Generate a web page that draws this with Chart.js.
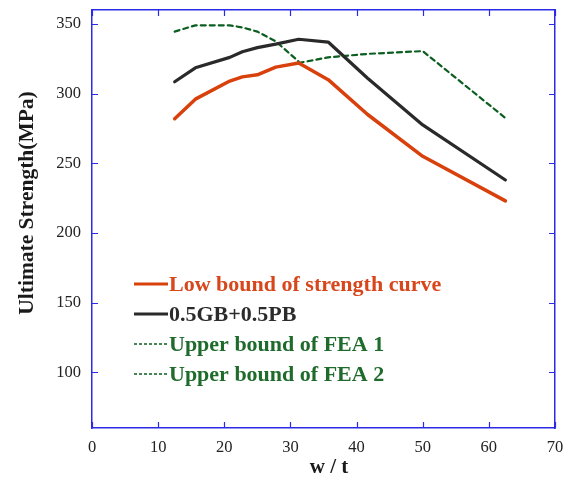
<!DOCTYPE html>
<html>
<head>
<meta charset="utf-8">
<script src="https://cdn.jsdelivr.net/npm/chart.js@4"></script>
<style>
  html, body { margin: 0; padding: 0; background: #fff; }
  #wrap { width: 575px; height: 482px; position: relative; }
</style>
</head>
<body>
<div id="wrap"><canvas id="strength-chart" width="575" height="482"></canvas></div>
<script>
// w/t values
const wt = [12.5, 15.63, 20.83, 22.73, 25, 27.78, 31.25, 35.71, 41.67, 50, 62.5];
const lowBound = [282, 296, 309, 312, 313.5, 319, 322, 310, 285, 255, 223];
const gbPb = [308.5, 318.5, 326, 330, 333, 335.5, 339, 337, 311, 277.5, 238];
const fea1X = [12.5, 15.63, 20.83, 22.73, 25, 27.78, 31.25];
const fea1 = [344.5, 349, 349, 347.5, 344.5, 337.5, 323];
const fea2X = [31.25, 35.71, 41.67, 50, 62.5];
const fea2 = [322, 326, 328.5, 330.5, 282.5];
const xTicks = [0, 10, 20, 30, 40, 50, 60, 70];
const yTicks = [100, 150, 200, 250, 300, 350];

const AXIS_BLUE = "#2b2be6";
const FONT = "'Liberation Serif', 'DejaVu Serif', serif";

const toPoints = (xs, ys) => xs.map((x, i) => ({ x: x, y: ys[i] }));

// ticks pointing inside the box, on all four sides
const innerTicks = {
  id: "innerTicks",
  afterDraw(chart) {
    const { ctx, chartArea: a, scales } = chart;
    const len = 6;
    ctx.save();
    ctx.strokeStyle = AXIS_BLUE;
    ctx.lineWidth = 1.2;
    ctx.beginPath();
    xTicks.forEach((v) => {
      const px = Math.round(scales.x.getPixelForValue(v)) + 0.5;
      ctx.moveTo(px, a.bottom);
      ctx.lineTo(px, a.bottom - len);
      ctx.moveTo(px, a.top);
      ctx.lineTo(px, a.top + len);
    });
    yTicks.forEach((v) => {
      const py = Math.round(scales.y.getPixelForValue(v)) + 0.5;
      ctx.moveTo(a.left, py);
      ctx.lineTo(a.left + len, py);
      ctx.moveTo(a.right, py);
      ctx.lineTo(a.right - len, py);
    });
    ctx.stroke();
    ctx.restore();
  },
};

// axis titles, placed where the original has them (not quite centred)
const axisTitles = {
  id: "axisTitles",
  afterDraw(chart) {
    const { ctx } = chart;
    ctx.save();
    ctx.fillStyle = "#1a1a1a";
    ctx.textAlign = "center";
    ctx.textBaseline = "middle";
    ctx.font = "bold 21px " + FONT;
    ctx.fillText("w / t", 329, 468);
    ctx.translate(27, 203);
    ctx.rotate(-Math.PI / 2);
    ctx.font = "bold 21.5px " + FONT;
    ctx.fillText("Ultimate Strength(MPa)", 0, 0);
    ctx.restore();
  },
};

// legend drawn inside the plot box
const boxLegend = {
  id: "boxLegend",
  afterDraw(chart) {
    const { ctx } = chart;
    const x0 = 134, x1 = 168, y0 = 284, gap = 30;
    ctx.save();
    ctx.font = "bold 22px " + FONT;
    ctx.textBaseline = "middle";
    chart.data.datasets.forEach((ds, i) => {
      const y = y0 + i * gap;
      ctx.strokeStyle = ds.borderColor;
      ctx.lineWidth = ds.borderDash ? 1.6 : 3;
      ctx.setLineDash(ds.borderDash ? [3, 2] : []);
      ctx.beginPath();
      ctx.moveTo(x0, y);
      ctx.lineTo(x1, y);
      ctx.stroke();
      ctx.setLineDash([]);
      ctx.fillStyle = ds.textColor;
      ctx.fillText(ds.label, x1 + 1, y + 1);
    });
    ctx.restore();
  },
};

const noPad = (s) => {
  s.paddingTop = 0;
  s.paddingBottom = 0;
  s.paddingLeft = 0;
  s.paddingRight = 0;
};

new Chart(document.getElementById("strength-chart"), {
  type: "line",
  data: {
    datasets: [
      {
        label: "Low bound of strength curve",
        data: toPoints(wt, lowBound),
        borderColor: "#d8400c",
        textColor: "#d8461b",
        borderWidth: 3.5,
      },
      {
        label: "0.5GB+0.5PB",
        data: toPoints(wt, gbPb),
        borderColor: "#2a2a2a",
        textColor: "#2b2b2b",
        borderWidth: 3.2,
      },
      {
        label: "Upper bound of FEA 1",
        data: toPoints(fea1X, fea1),
        borderColor: "#0b5e1f",
        textColor: "#1e6b2c",
        borderWidth: 2.2,
        borderDash: [5, 4],
      },
      {
        label: "Upper bound of FEA 2",
        data: toPoints(fea2X, fea2),
        borderColor: "#0b5e1f",
        textColor: "#1e6b2c",
        borderWidth: 2.2,
        borderDash: [5, 4],
      },
    ],
  },
  options: {
    responsive: false,
    animation: false,
    devicePixelRatio: 1,
    layout: { padding: 0 },
    elements: {
      point: { radius: 0 },
      line: { tension: 0, fill: false, borderJoinStyle: "round", borderCapStyle: "round" },
    },
    plugins: {
      legend: { display: false },
      tooltip: { enabled: false },
    },
    scales: {
      x: {
        type: "linear",
        position: "bottom",
        min: 0,
        max: 70,
        afterBuildTicks: (s) => { s.ticks = xTicks.map((v) => ({ value: v })); },
        afterFit: (s) => { s.height = 54; noPad(s); },
        grid: { display: false, drawTicks: false },
        border: { display: true, color: AXIS_BLUE, width: 1.5 },
        ticks: {
          padding: 10,
          color: "#222",
          font: { family: FONT, size: 16.5 },
          maxRotation: 0,
          autoSkip: false,
        },
      },
      xTop: {
        type: "linear",
        position: "top",
        min: 0,
        max: 70,
        afterFit: (s) => { s.height = 10; noPad(s); },
        grid: { display: false, drawTicks: false },
        border: { display: true, color: AXIS_BLUE, width: 1.5 },
        ticks: { display: false },
      },
      y: {
        type: "linear",
        position: "left",
        min: 60,
        max: 360,
        afterBuildTicks: (s) => { s.ticks = yTicks.map((v) => ({ value: v })); },
        afterFit: (s) => { s.width = 92; noPad(s); },
        grid: { display: false, drawTicks: false },
        border: { display: true, color: AXIS_BLUE, width: 1.5 },
        ticks: {
          padding: 11,
          color: "#222",
          font: { family: FONT, size: 16.5 },
          autoSkip: false,
        },
      },
      yRight: {
        type: "linear",
        position: "right",
        min: 60,
        max: 360,
        afterFit: (s) => { s.width = 20; noPad(s); },
        grid: { display: false, drawTicks: false },
        border: { display: true, color: AXIS_BLUE, width: 1.5 },
        ticks: { display: false },
      },
    },
  },
  plugins: [innerTicks, axisTitles, boxLegend],
});
</script>
</body>
</html>
